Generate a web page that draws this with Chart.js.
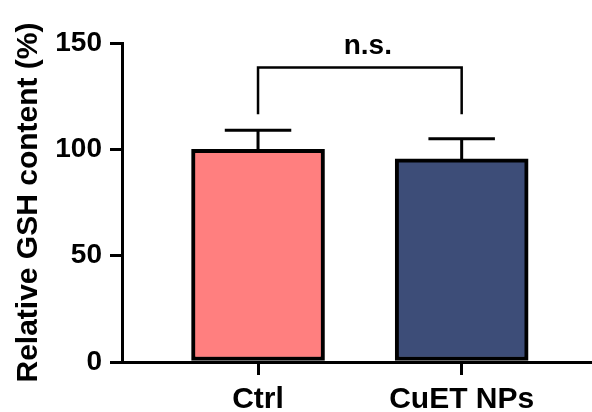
<!DOCTYPE html>
<html>
<head>
<meta charset="utf-8">
<script src="https://cdn.jsdelivr.net/npm/chart.js@4/dist/chart.umd.min.js"></script>
<style>
  html, body { margin: 0; padding: 0; background: #fff; }
  #wrap { width: 592px; height: 412px; }
</style>
</head>
<body>
<div id="wrap"><canvas id="gshChart" width="592" height="412"></canvas></div>
<script>
const categories = ["Ctrl", "CuET NPs"];
const values = [100, 95.5];
const errors = [9, 9.5];
const barColors = ["#FF7F7F", "#3D4D78"];
const yTicks = [0, 50, 100, 150];
const sigLabel = "n.s.";
const bracketTop = 138.5;
const bracketEnd = 116.5;

const FONT = "'Liberation Sans', Arial, sans-serif";

// error bars (upper side only, like the Prism style)
const errorBars = {
    id: "errorBars",
    afterDatasetsDraw(chart) {
        const ctx = chart.ctx;
        const y = chart.scales.y;
        const meta = chart.getDatasetMeta(0);
        ctx.save();
        ctx.strokeStyle = "#000";
        ctx.lineWidth = 3;
        meta.data.forEach((bar, i) => {
            const top = y.getPixelForValue(values[i] + errors[i]);
            const half = bar.width / 4;
            ctx.beginPath();
            ctx.moveTo(bar.x, bar.y);
            ctx.lineTo(bar.x, top);
            ctx.moveTo(bar.x - half, top);
            ctx.lineTo(bar.x + half, top);
            ctx.stroke();
        });
        ctx.restore();
    }
};

// significance bracket between the two groups
const sigBracket = {
    id: "sigBracket",
    afterDraw(chart) {
        const ctx = chart.ctx;
        const x = chart.scales.x, y = chart.scales.y;
        const x1 = x.getPixelForValue(0);
        const x2 = x.getPixelForValue(1);
        const yt = y.getPixelForValue(bracketTop);
        const yb = y.getPixelForValue(bracketEnd);
        ctx.save();
        ctx.strokeStyle = "#000";
        ctx.lineWidth = 2.5;
        ctx.beginPath();
        ctx.moveTo(x1, yb);
        ctx.lineTo(x1, yt);
        ctx.lineTo(x2, yt);
        ctx.lineTo(x2, yb);
        ctx.stroke();
        ctx.fillStyle = "#000";
        ctx.font = "bold 28px " + FONT;
        ctx.textAlign = "center";
        ctx.textBaseline = "alphabetic";
        ctx.fillText(sigLabel, (x1 + x2) / 2 + 8, yt - 13);
        ctx.restore();
    }
};

new Chart(document.getElementById("gshChart"), {
    type: "bar",
    data: {
        datasets: [{
            data: categories.map((c, i) => ({ x: i, y: values[i] })),
            backgroundColor: barColors,
            borderColor: "#000",
            borderWidth: 4,
            borderSkipped: false,
            barThickness: 133
        }]
    },
    options: {
        responsive: false,
        animation: false,
        layout: { padding: { top: 43, left: 7, right: 0, bottom: 0 } },
        plugins: { legend: { display: false }, tooltip: { enabled: false } },
        scales: {
            x: {
                type: "linear",
                offset: false,
                min: -0.668,
                max: 1.64,
                afterBuildTicks: s => { s.ticks = categories.map((c, i) => ({ value: i })); },
                afterFit: s => { s.height = 50; },
                ticks: {
                    callback: v => categories[v],
                    color: "#000",
                    font: { family: FONT, size: 30, weight: "bold", lineHeight: 1.1 },
                    padding: 8
                },
                grid: { offset: false, drawOnChartArea: false, color: "#000", lineWidth: 3, tickLength: 13 },
                border: { color: "#000", width: 3 }
            },
            y: {
                min: 0,
                max: 150,
                afterBuildTicks: s => { s.ticks = yTicks.map(v => ({ value: v })); },
                afterFit: s => { s.width = 115; },
                ticks: {
                    color: "#000",
                    font: { family: FONT, size: 28, weight: "bold" },
                    padding: 8
                },
                grid: { drawOnChartArea: false, color: "#000", lineWidth: 3, tickLength: 12 },
                border: { color: "#000", width: 3 },
                title: {
                    display: true,
                    text: "Relative GSH content (%)",
                    color: "#000",
                    font: { family: FONT, size: 30, weight: "bold" },
                    padding: { top: 4, bottom: 4 }
                }
            }
        }
    },
    plugins: [errorBars, sigBracket]
});
</script>
</body>
</html>
